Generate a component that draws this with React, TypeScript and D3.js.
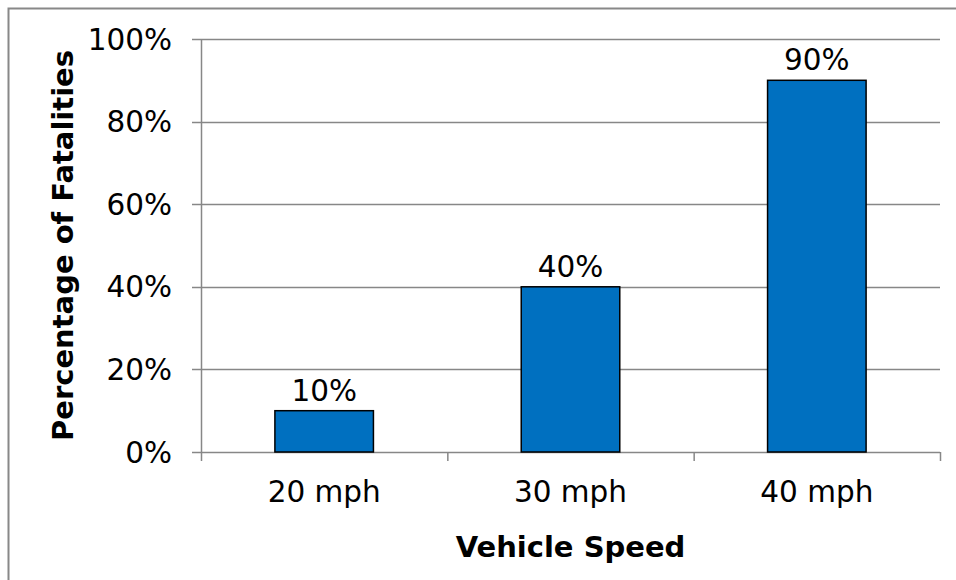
import React from "react";
import * as d3 from "d3";

const categories = ["20 mph", "30 mph", "40 mph"];
const values = [0.1, 0.4, 0.9];
const yTicks = [0, 0.2, 0.4, 0.6, 0.8, 1.0];
const xTitle = "Vehicle Speed";
const yTitle = "Percentage of Fatalities";

const W = 956;
const H = 580;
const left = 201;
const right = 940;
const top = 39;
const bottom = 452;
const FONT = "'DejaVu Sans', Verdana, sans-serif";
const FS = 29.5;
const FSB = 29;

export default function App() {
  const x = d3.scaleBand<string>().domain(categories).range([left, right]).paddingInner(0.6).paddingOuter(0.3);
  const band = d3.scaleBand<string>().domain(categories).range([left, right]);
  const y = d3.scaleLinear().domain([0, 1]).range([bottom, top]);
  const fmt = d3.format(".0%");
  const grid = "#878787";

  return (
    <svg width={W} height={H} style={{ position: "absolute", left: 0, top: 0, background: "#fff" }}>
      <rect x={8.5} y={8.5} width={1200} height={1200} fill="#fff" stroke="#888" strokeWidth={2} />
      {yTicks.map((t) => (
        <g key={t}>
          <line x1={192} x2={right} y1={Math.round(y(t)) + 0.5} y2={Math.round(y(t)) + 0.5} stroke={grid} strokeWidth={1.5} />
          <text x={172} y={y(t)} dy="0.36em" textAnchor="end" fontFamily={FONT} fontSize={FS} fill="#000">
            {fmt(t)}
          </text>
        </g>
      ))}
      <line x1={left + 0.5} x2={left + 0.5} y1={top} y2={bottom} stroke={grid} strokeWidth={1.5} />
      {[...categories.map((c) => band(c) as number), right].map((px, i) => (
        <line key={i} x1={px + 0.5} x2={px + 0.5} y1={bottom} y2={bottom + 9} stroke={grid} strokeWidth={1.5} />
      ))}
      {categories.map((c, i) => {
        const bx = x(c) as number;
        const bw = x.bandwidth();
        const yt = y(values[i]);
        return (
          <g key={c}>
            <rect x={bx} y={yt} width={bw} height={bottom - yt} fill="#0070C0" stroke="#000" strokeWidth={1.5} />
            <text x={bx + bw / 2} y={yt - 10} textAnchor="middle" fontFamily={FONT} fontSize={FS} fill="#000">
              {fmt(values[i])}
            </text>
            <text x={bx + bw / 2} y={bottom + 50} textAnchor="middle" fontFamily={FONT} fontSize={FS} fill="#000">
              {c}
            </text>
          </g>
        );
      })}
      <text x={(left + right) / 2} y={557} textAnchor="middle" fontFamily={FONT} fontSize={FSB} fontWeight="bold" fill="#000">
        {xTitle}
      </text>
      <text
        transform={`translate(73, ${(top + bottom) / 2}) rotate(-90)`}
        textAnchor="middle"
        fontFamily={FONT}
        fontSize={FSB}
        fontWeight="bold"
        fill="#000"
      >
        {yTitle}
      </text>
    </svg>
  );
}
